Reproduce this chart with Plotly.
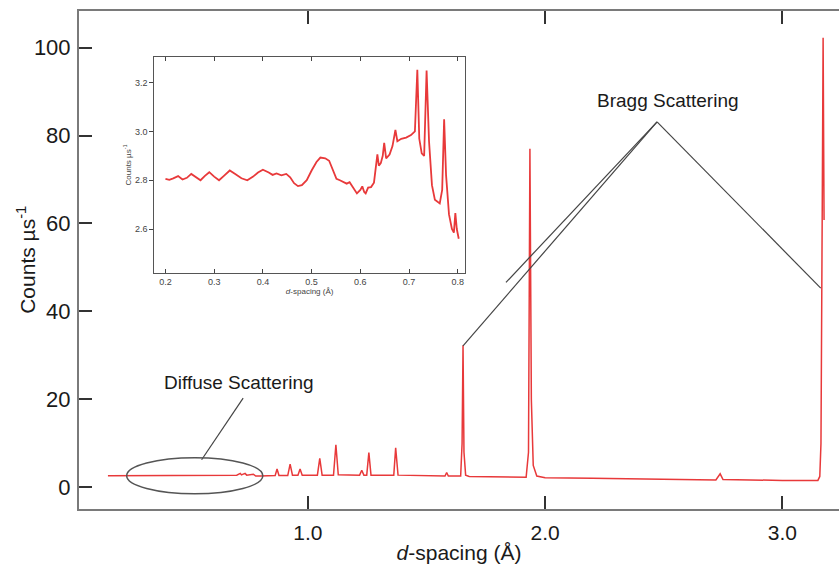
import plotly.graph_objects as go

# ---- main pattern: d-spacing (Å) vs counts/µs ----
d_main = [0.157, 0.300, 0.500, 0.700, 0.715, 0.720, 0.735, 0.742, 0.770, 0.780,
          0.800, 0.840, 0.862, 0.870, 0.878, 0.915, 0.925, 0.935, 0.958, 0.967,
          0.976, 1.040, 1.050, 1.060, 1.108, 1.118, 1.128, 1.218, 1.227, 1.236,
          1.248, 1.257, 1.266, 1.362, 1.370, 1.380, 1.578, 1.585, 1.592, 1.644,
          1.650, 1.654, 1.658, 1.665, 1.680, 1.920, 1.930, 1.936, 1.942, 1.950,
          1.965, 2.000, 2.150, 2.200, 2.270, 2.400, 2.720, 2.738, 2.750, 3.000,
          3.150, 3.158, 3.163, 3.168, 3.172, 3.176]
counts_main = [2.66, 2.68, 2.70, 2.80, 3.20, 2.85, 3.20, 2.80, 3.00, 2.60,
               2.60, 2.70, 2.70, 4.20, 2.70, 2.70, 5.30, 2.80, 2.80, 4.20,
               2.80, 2.80, 6.60, 2.80, 2.80, 9.70, 2.90, 2.80, 3.90, 2.80,
               2.80, 7.90, 2.80, 2.80, 9.00, 2.80, 2.60, 3.40, 2.60, 2.60,
               10.0, 32.3, 8.00, 2.80, 2.50, 2.30, 8.00, 77.0, 20.0, 5.00,
               2.60, 2.20, 2.00, 2.10, 2.05, 1.90, 1.70, 3.10, 1.80, 1.60,
               1.60, 2.50, 10.0, 60.0, 102.2, 60.8]

# ---- inset: diffuse region ----
d_inset = [0.200, 0.208, 0.216, 0.226, 0.235, 0.244, 0.253, 0.262, 0.272, 0.281,
           0.290, 0.300, 0.310, 0.320, 0.332, 0.344, 0.356, 0.368, 0.380, 0.390,
           0.400, 0.412, 0.420, 0.428, 0.438, 0.448, 0.456, 0.464, 0.472, 0.480,
           0.490, 0.500, 0.510, 0.518, 0.528, 0.536, 0.545, 0.551, 0.558, 0.566,
           0.572, 0.578, 0.585, 0.593, 0.600, 0.604, 0.608, 0.611, 0.616, 0.622,
           0.628, 0.632, 0.635, 0.638, 0.642, 0.646, 0.649, 0.653, 0.660, 0.666,
           0.672, 0.676, 0.684, 0.694, 0.704, 0.712, 0.717, 0.721, 0.726, 0.731,
           0.736, 0.741, 0.747, 0.753, 0.763, 0.768, 0.772, 0.776, 0.782, 0.788,
           0.792, 0.795, 0.798, 0.802]
counts_inset = [2.806, 2.802, 2.808, 2.817, 2.803, 2.810, 2.826, 2.812, 2.800, 2.818,
                2.833, 2.815, 2.800, 2.818, 2.840, 2.825, 2.808, 2.800, 2.815, 2.832,
                2.843, 2.832, 2.822, 2.828, 2.820, 2.826, 2.812, 2.788, 2.776, 2.780,
                2.800, 2.840, 2.875, 2.893, 2.890, 2.880, 2.840, 2.806, 2.800, 2.790,
                2.786, 2.792, 2.770, 2.746, 2.760, 2.775, 2.752, 2.746, 2.770, 2.772,
                2.790, 2.850, 2.906, 2.860, 2.870, 2.900, 2.953, 2.890, 2.905, 2.940,
                3.006, 2.960, 2.970, 2.975, 2.985, 3.000, 3.253, 2.970, 2.910, 2.900,
                3.250, 2.960, 2.780, 2.720, 2.705, 2.760, 3.050, 2.820, 2.660, 2.600,
                2.585, 2.665, 2.600, 2.560]

main_xticks = [1.0, 2.0, 3.0]
main_xticklabels = ["1.0", "2.0", "3.0"]
main_yticks = [0, 20, 40, 60, 80, 100]
inset_xticks = [0.2, 0.3, 0.4, 0.5, 0.6, 0.7, 0.8]
inset_yticks = [2.6, 2.8, 3.0, 3.2]

RED = "#e8393a"
AX = "#7a7a7a"
FONT = "Liberation Sans, Arial, sans-serif"

fig = go.Figure()
fig.add_trace(go.Scatter(x=d_main, y=counts_main, mode="lines",
                         line=dict(color=RED, width=1.5), showlegend=False,
                         xaxis="x", yaxis="y"))
fig.add_trace(go.Scatter(x=d_inset, y=counts_inset, mode="lines",
                         line=dict(color=RED, width=1.8), showlegend=False,
                         xaxis="x2", yaxis="y2"))

fig.update_layout(
    width=839, height=570,
    margin=dict(l=79, r=0, t=11, b=61, autoexpand=False),
    paper_bgcolor="white", plot_bgcolor="white",
    font=dict(family=FONT, color="#1a1a1a"),
    xaxis=dict(range=[0.035, 3.239], domain=[0, 1], showgrid=False, zeroline=False,
               automargin=False,
               showline=True, linecolor=AX, linewidth=2, mirror="ticks",
               ticks="inside", ticklen=13, tickwidth=1.5, tickcolor="#333",
               tickvals=main_xticks, ticktext=main_xticklabels,
               tickfont=dict(size=21), ticklabelstandoff=4,
               title=dict(text="<i>d</i>-spacing (Å)", font=dict(size=21), standoff=2)),
    yaxis=dict(range=[-4.9, 108.3], domain=[0, 1], showgrid=False, zeroline=False,
               automargin=False,
               showline=True, linecolor=AX, linewidth=2,
               ticks="inside", ticklen=13, tickwidth=1.5, tickcolor="#333",
               tickvals=main_yticks, tickfont=dict(size=22), ticklabelstandoff=2),
    xaxis2=dict(range=[0.177, 0.815], domain=[0.099, 0.508], anchor="y2",
                automargin=False,
                showgrid=False, zeroline=False, showline=True, linecolor="#555",
                linewidth=1, mirror="ticks", ticks="inside", ticklen=4,
                tickcolor="#444", tickvals=inset_xticks, tickformat=".1f",
                tickfont=dict(size=9, color="#444"),
                title=dict(text="<i>d</i>-spacing (Å)", font=dict(size=8, color="#444"), standoff=2)),
    yaxis2=dict(range=[2.42, 3.306], domain=[0.474, 0.908], anchor="x2",
                automargin=False,
                showgrid=False, zeroline=False, showline=True, linecolor="#555",
                linewidth=1, mirror=True, ticks="outside", ticklen=4,
                tickcolor="#444", tickvals=inset_yticks, tickformat=".1f",
                tickfont=dict(size=9, color="#444"),
                title=dict(text="Counts µs<sup>-1</sup>", font=dict(size=8, color="#444"), standoff=2)),
)

# main y-axis title
fig.add_annotation(x=-0.07, y=0.5, xref="paper", yref="paper", textangle=-90,
                   text="Counts µs<sup>-1</sup>", showarrow=False,
                   xanchor="center", yanchor="middle", font=dict(size=21, color="#1a1a1a"))

LINE = dict(color="#444", width=1.2)
# Bragg annotation lines
apex = (2.472, 83.1)
for end in [(1.654, 32.2), (1.835, 46.6), (3.162, 45.3)]:
    fig.add_shape(type="line", xref="x", yref="y", x0=apex[0], y0=apex[1],
                  x1=end[0], y1=end[1], line=LINE)
fig.add_annotation(x=2.518, y=87.9, xref="x", yref="y", text="Bragg Scattering",
                   showarrow=False, font=dict(size=19, color="#1a1a1a"))
# Diffuse annotation
fig.add_shape(type="line", xref="x", yref="y", x0=0.727, y0=20.3, x1=0.552, y1=6.3, line=LINE)
fig.add_shape(type="circle", xref="x", yref="y", x0=0.236, y0=-1.43, x1=0.810, y1=6.75,
              line=dict(color="#555", width=1.5))
fig.add_annotation(x=0.711, y=23.8, xref="x", yref="y", text="Diffuse Scattering",
                   showarrow=False, font=dict(size=19, color="#1a1a1a"))

fig.write_html("out.html", config={"displayModeBar": False},
               post_script="document.body.style.margin='0px';document.body.style.overflow='hidden';")
